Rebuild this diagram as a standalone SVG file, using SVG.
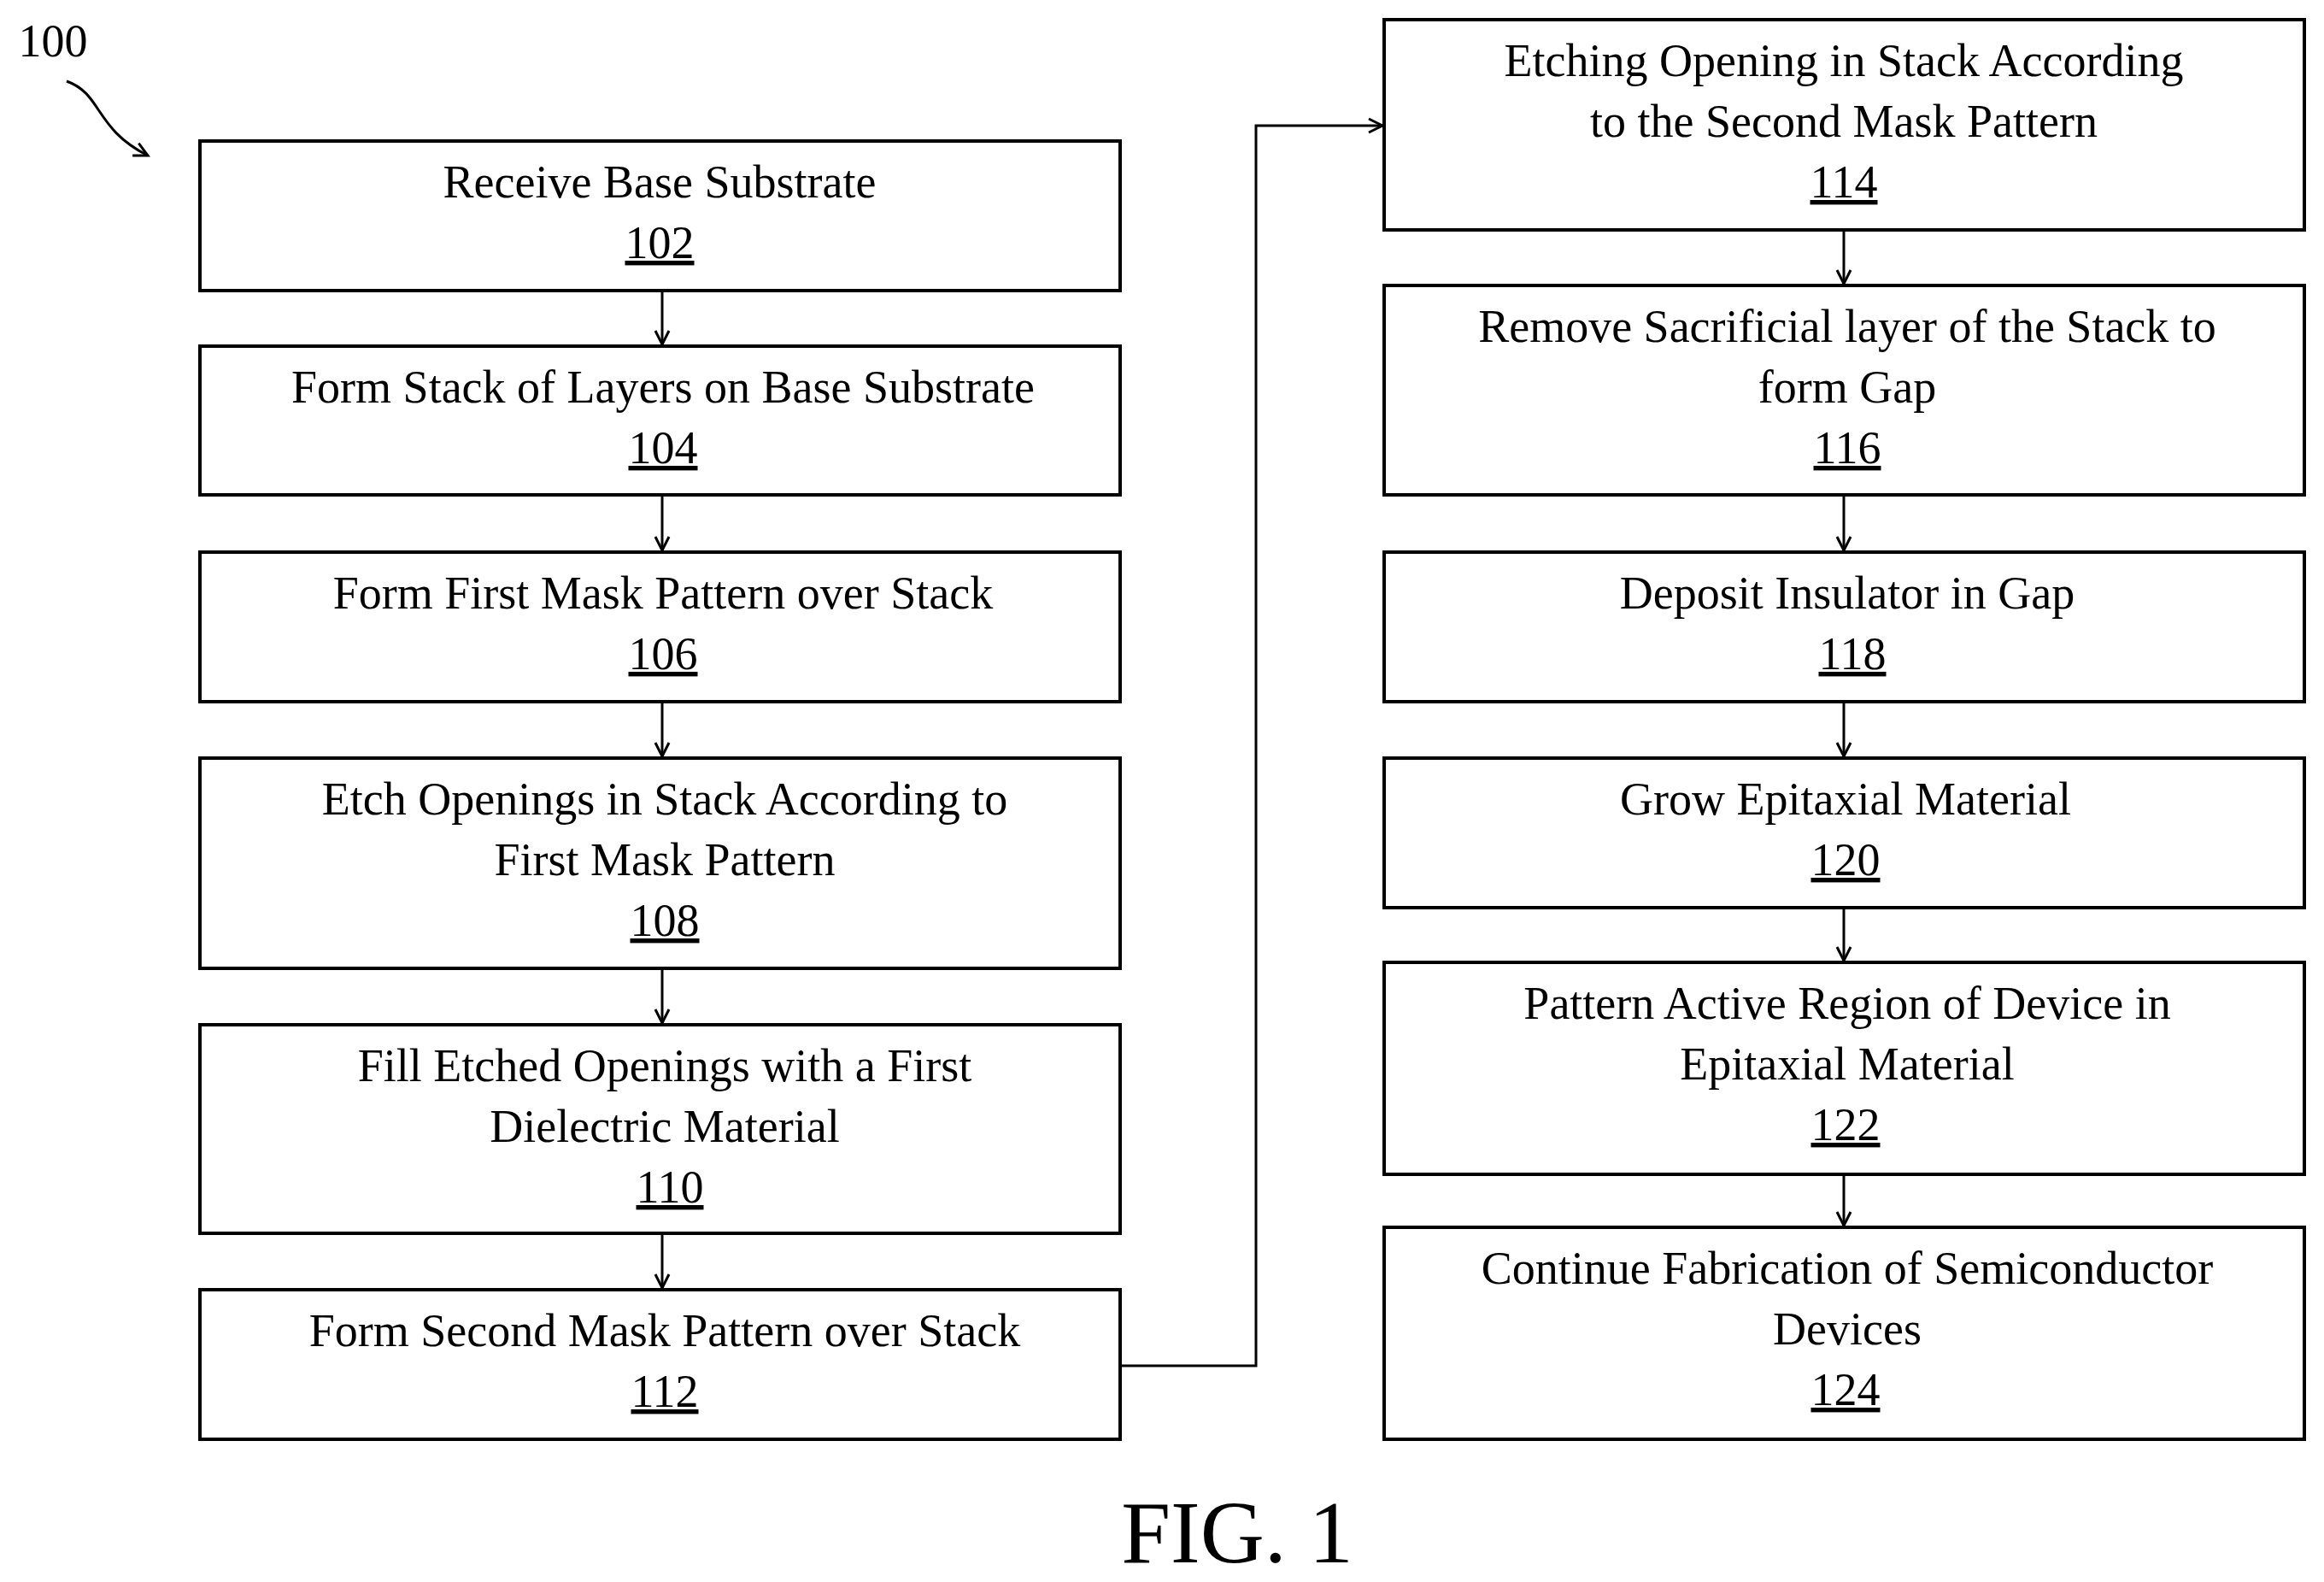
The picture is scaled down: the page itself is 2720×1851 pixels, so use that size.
<svg xmlns="http://www.w3.org/2000/svg" width="2720" height="1851" viewBox="0 0 2720 1851">
<style>
.b{fill:#fff;stroke:#000;stroke-width:4}
text{font-family:"Liberation Serif",serif;font-size:54px;fill:#000;text-anchor:middle}
.n{text-decoration:underline}
.c{fill:none;stroke:#000;stroke-width:3}
</style>
<defs><marker id="a" markerWidth="24" markerHeight="24" refX="20" refY="12" orient="auto" markerUnits="userSpaceOnUse"><polyline points="4,4 20,12 4,20" fill="none" stroke="#000" stroke-width="3"/></marker></defs>
<g id="n100"><text x="62" y="66">100</text></g>
<g id="n102"><rect class="b" x="234" y="165" width="1077" height="175"/><text x="772" y="231">Receive Base Substrate</text><text class="n" x="772" y="302">102</text></g>
<g id="n104"><rect class="b" x="234" y="405" width="1077" height="174"/><text x="776" y="471">Form Stack of Layers on Base Substrate</text><text class="n" x="776" y="542">104</text></g>
<g id="n106"><rect class="b" x="234" y="646" width="1077" height="175"/><text x="776" y="712">Form First Mask Pattern over Stack</text><text class="n" x="776" y="783">106</text></g>
<g id="n108"><rect class="b" x="234" y="887" width="1077" height="246"/><text x="778" y="953">Etch Openings in Stack According to</text><text x="778" y="1024">First Mask Pattern</text><text class="n" x="778" y="1095">108</text></g>
<g id="n110"><rect class="b" x="234" y="1199" width="1077" height="244"/><text x="778" y="1265">Fill Etched Openings with a First</text><text x="778" y="1336">Dielectric Material</text><text class="n" x="784" y="1407">110</text></g>
<g id="n112"><rect class="b" x="234" y="1509" width="1077" height="175"/><text x="778" y="1575">Form Second Mask Pattern over Stack</text><text class="n" x="778" y="1646">112</text></g>
<g id="n114"><rect class="b" x="1620" y="23" width="1077" height="246"/><text x="2158" y="89">Etching Opening in Stack According</text><text x="2158" y="160">to the Second Mask Pattern</text><text class="n" x="2158" y="231">114</text></g>
<g id="n116"><rect class="b" x="1620" y="334" width="1077" height="245"/><text x="2162" y="400">Remove Sacrificial layer of the Stack to</text><text x="2162" y="471">form Gap</text><text class="n" x="2162" y="542">116</text></g>
<g id="n118"><rect class="b" x="1620" y="646" width="1077" height="175"/><text x="2162" y="712">Deposit Insulator in Gap</text><text class="n" x="2168" y="783">118</text></g>
<g id="n120"><rect class="b" x="1620" y="887" width="1077" height="175"/><text x="2160" y="953">Grow Epitaxial Material</text><text class="n" x="2160" y="1024">120</text></g>
<g id="n122"><rect class="b" x="1620" y="1126" width="1077" height="248"/><text x="2162" y="1192">Pattern Active Region of Device in</text><text x="2162" y="1263">Epitaxial Material</text><text class="n" x="2160" y="1334">122</text></g>
<g id="n124"><rect class="b" x="1620" y="1436" width="1077" height="248"/><text x="2162" y="1502">Continue Fabrication of Semiconductor</text><text x="2162" y="1573">Devices</text><text class="n" x="2160" y="1644">124</text></g>
<g id="fig"><text x="1448" y="1828" style="font-size:104px">FIG. 1</text></g>
<g id="connectors">
<path class="c" marker-end="url(#a)" d="M78,95 C120,110 110,150 173,182"/>
<path class="c" marker-end="url(#a)" d="M775,340 V403"/>
<path class="c" marker-end="url(#a)" d="M775,579 V644"/>
<path class="c" marker-end="url(#a)" d="M775,821 V885"/>
<path class="c" marker-end="url(#a)" d="M775,1133 V1197"/>
<path class="c" marker-end="url(#a)" d="M775,1443 V1507"/>
<path class="c" marker-end="url(#a)" d="M1311,1598 H1470 V147 H1618"/>
<path class="c" marker-end="url(#a)" d="M2158,269 V332"/>
<path class="c" marker-end="url(#a)" d="M2158,579 V644"/>
<path class="c" marker-end="url(#a)" d="M2158,821 V885"/>
<path class="c" marker-end="url(#a)" d="M2158,1062 V1124"/>
<path class="c" marker-end="url(#a)" d="M2158,1374 V1434"/>
</g>
</svg>
